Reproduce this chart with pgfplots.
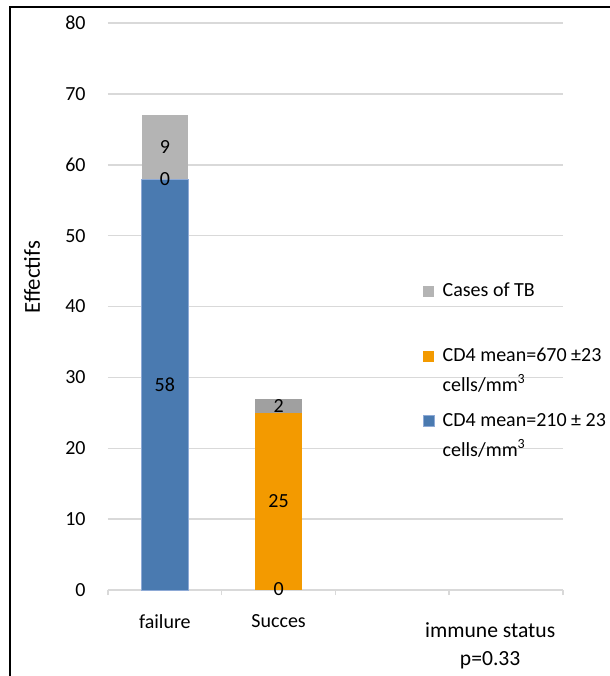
\documentclass[border=0pt]{standalone}
\usepackage{pgfplots}
\pgfplotsset{compat=1.18}
\usepackage{fontspec}
\setmainfont{Carlito}
\definecolor{cblue}{HTML}{4A7AB0}
\definecolor{cblueedge}{HTML}{8EAAD6}
\definecolor{corange}{HTML}{F39A00}
\definecolor{cgrayA}{HTML}{B4B4B4}
\definecolor{cgrayB}{HTML}{A0A0A0}
\definecolor{cgrid}{HTML}{D9D9D9}
\begin{document}
\begin{tikzpicture}
\useasboundingbox (0,0) rectangle (305pt,338pt);
\begin{axis}[
  at={(54pt,43pt)}, anchor=south west,
  scale only axis, width=227.5pt, height=283.5pt,
  ybar stacked, bar width=0.41,
  xmin=-0.5, xmax=3.5, ymin=0, ymax=80,
  xtick={0,1}, xticklabels={failure,Succes},
  minor xtick={-0.5,0.5,1.5,2.5,3.5},
  ytick={0,10,...,80},
  axis lines*=left,
  y axis line style={draw=none},
  x axis line style={cgrid, line width=0.75pt},
  major tick length=0pt,
  minor tick length=2.5pt,
  tick align=outside,
  ytick style={draw=none},
  minor x tick style={cgrid, line width=0.75pt},
  ymajorgrids, grid style={cgrid, line width=0.75pt},
  /pgf/number format/assume math mode=true,
  tick label style={font=\fontsize{10}{12}\selectfont},
  yticklabel style={xshift=-7.7pt},
  xticklabel style={yshift=-8.7pt},
  xlabel={immune status\\p=0.33},
  xlabel style={align=center, font=\fontsize{10.8}{14}\selectfont, at={(axis description cs:0.840,-0.0988)}, anchor=center},
  ylabel={Effectifs},
  ylabel style={font=\fontsize{11.4}{14}\selectfont, at={(axis description cs:-0.167,0.552)}, anchor=center},
  nodes near coords,
  point meta=explicit symbolic,
  every node near coord/.append style={anchor=center, text=black, font=\fontsize{10}{12}\selectfont},
  reverse legend,
  legend image code/.code={\fill[#1] (0pt,-2.75pt) rectangle (5.5pt,2.75pt);},
  legend style={at={(axis description cs:0.692,0.550)}, anchor=north west,
    draw=none, fill=none, inner sep=0pt, outer sep=0pt, row sep=19.5pt, column sep=2pt,
    cells={anchor=west},
    nodes={text height=7pt, text depth=2pt}},
]
\addplot[fill=cblue, draw=cblueedge, line width=0.4pt] coordinates {(0,58) [58] (1,0) []};
\addlegendentry{\raisebox{0pt}[\height][0pt]{\begin{tabular}[t]{@{}l@{}}CD4 mean=210 ± 23\\[3pt]cells/mm\textsuperscript{3}\end{tabular}}}
\addplot[fill=corange, draw=none] coordinates {(0,0) [] (1,25) [25]};
\addlegendentry{\raisebox{0pt}[\height][0pt]{\begin{tabular}[t]{@{}l@{}}CD4 mean=670 ±23\\[3pt]cells/mm\textsuperscript{3}\end{tabular}}}
\addplot[fill=cgrayA, draw=none] coordinates {(0,9) [9] (1,0) []};
\addlegendentry{Cases of TB}
\addplot[fill=cgrayB, draw=none, forget plot] coordinates {(0,0) [] (1,2) [2]};
\end{axis}
\begin{axis}[
  at={(54pt,43pt)}, anchor=south west,
  scale only axis, width=227.5pt, height=283.5pt,
  xmin=-0.5, xmax=3.5, ymin=0, ymax=80,
  hide axis, clip=false,
  nodes near coords,
  point meta=explicit symbolic,
  every node near coord/.append style={anchor=center, text=black, font=\fontsize{10}{12}\selectfont},
]
\addplot[draw=none, mark=none] coordinates {(0,58) [0] (1,0.1) [0]};
\end{axis}
\draw[line width=1pt] (5pt,0pt) -- (5pt,334.5pt) -- (305pt,334.5pt);
\end{tikzpicture}
\end{document}
